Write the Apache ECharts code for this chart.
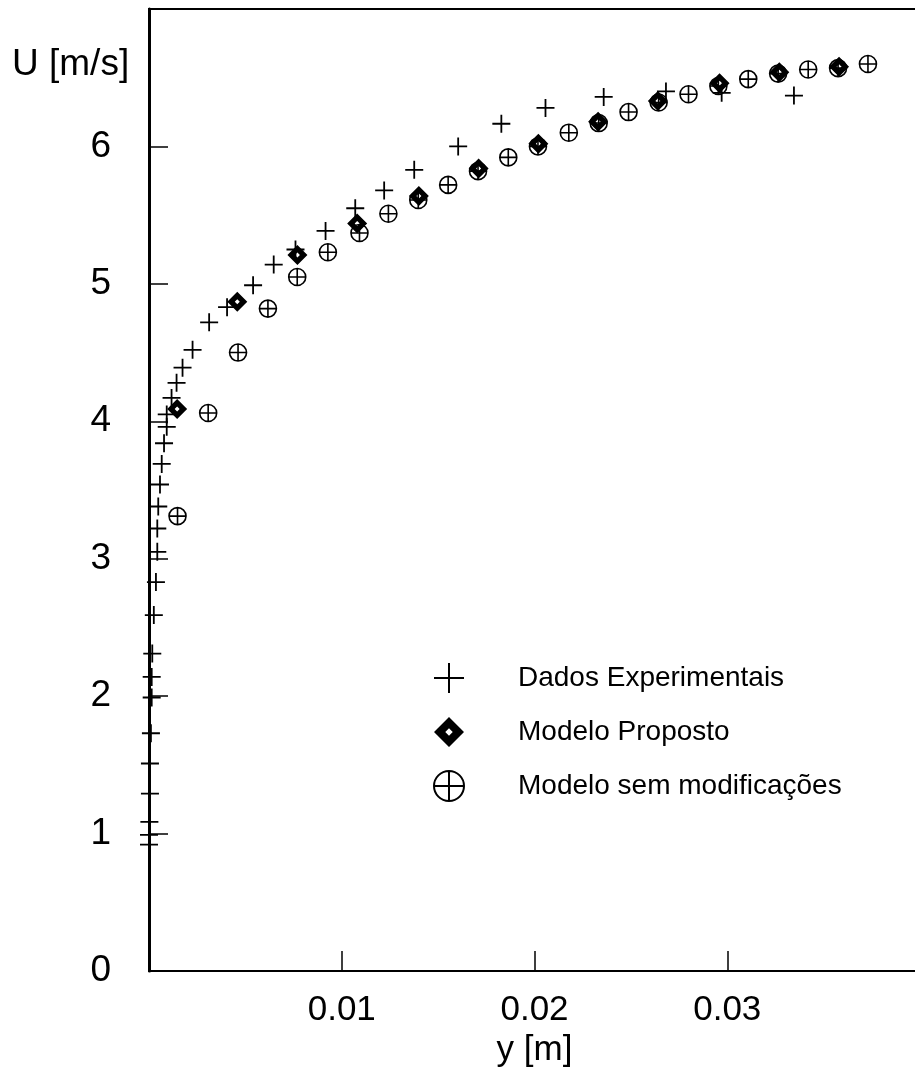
<!DOCTYPE html>
<html>
<head>
<meta charset="utf-8">
<script type="text/javascript" src="https://cdn.jsdelivr.net/npm/echarts@6/dist/echarts.min.js"></script>
<title>U x y</title>
<style>
  html, body { margin: 0; padding: 0; background: #fff; overflow: hidden; }
</style>
</head>
<body>
<!-- the plot runs past the right edge of the picture, so the div is wider than the window -->
<div id="main" style="width: 923px;height:1074px;"></div>
<script type="text/javascript">

    // Dados Experimentais (y [m], U [m/s])
    var expY = [0, 0, 0.00002, 0.00005, 0.00005, 0.0001, 0.00014, 0.00014, 0.00017, 0.00025,
                0.00036, 0.00043, 0.00043, 0.00048, 0.00057, 0.00066, 0.00078, 0.00092, 0.00092, 0.00117,
                0.00143, 0.00174, 0.00226, 0.00312, 0.00405, 0.0054, 0.00647, 0.0076, 0.00916, 0.0107,
                0.0122, 0.01376, 0.01604, 0.01828, 0.02057, 0.02359, 0.02682, 0.02971, 0.03346];
    var expU = [0.92, 0.99, 1.085, 1.29, 1.51, 1.73, 1.99, 2.14, 2.31, 2.59,
                2.83, 3.05, 3.22, 3.38, 3.54, 3.69, 3.84, 3.96, 4.05, 4.17,
                4.28, 4.39, 4.52, 4.72, 4.83, 4.99, 5.14, 5.25, 5.385, 5.55,
                5.68, 5.83, 6.00, 6.165, 6.28, 6.36, 6.40, 6.39, 6.37];

    // Modelo Proposto
    var propY = [0.00146, 0.00458, 0.0077, 0.0108, 0.014, 0.0171, 0.0202, 0.0233, 0.0264, 0.0296, 0.0327, 0.0358];
    var propU = [4.09, 4.87, 5.21, 5.44, 5.64, 5.84, 6.02, 6.18, 6.33, 6.46, 6.54, 6.58];

    // Modelo sem modificações
    var semY = [0.00148, 0.00307, 0.00462, 0.00617, 0.00769, 0.00928, 0.01092, 0.01242, 0.01397, 0.01552,
                0.01707, 0.01864, 0.02018, 0.02178, 0.02333, 0.02488, 0.02644, 0.02799, 0.02954, 0.03109,
                0.03264, 0.0342, 0.03575, 0.0373];
    var semU = [3.31, 4.06, 4.50, 4.82, 5.05, 5.23, 5.37, 5.51, 5.61, 5.72,
                5.82, 5.92, 6.00, 6.10, 6.17, 6.25, 6.32, 6.38, 6.44, 6.49,
                6.53, 6.56, 6.57, 6.60];

    var names = ['Dados Experimentais', 'Modelo Proposto', 'Modelo sem modificações'];

    function pairs(xs, ys) {
        var out = [];
        for (var i = 0; i < xs.length; i++) {
            out.push([xs[i], ys[i]]);
        }
        return out;
    }

    var crossPath = 'path://M0,-10 L0,10 M-10,0 L10,0';
    var diamondPath = 'path://M0,-10 L10,0 L0,10 L-10,0 Z M0,-2.5 L-2.5,0 L0,2.5 L2.5,0 Z';
    var circlePlusPath = 'path://M-10,0 A10,10 0 1,1 10,0 A10,10 0 1,1 -10,0 Z M-10,0 L10,0 M0,-10 L0,10';

    var font = 'Liberation Sans, Arial, sans-serif';

    var myChart = echarts.init(document.getElementById('main'));

    var option = {
        animation: false,
        title: {
            text: 'U [m/s]',
            left: 12,
            top: 46,
            padding: 0,
            textStyle: { fontFamily: font, fontSize: 37, fontWeight: 'normal', color: '#000' }
        },
        legend: {
            orient: 'vertical',
            left: 428,
            top: 657,
            itemWidth: 30,
            itemHeight: 30,
            itemGap: 23,
            data: names,
            textStyle: { fontFamily: font, fontSize: 28, color: '#000', padding: [0, 0, 0, 49] }
        },
        grid: {
            left: 149,
            top: 9,
            right: 1,
            bottom: 103,
            show: true,
            borderColor: '#000',
            borderWidth: 2
        },
        xAxis: {
            type: 'value',
            min: 0,
            max: 0.04,
            interval: 0.01,
            name: 'y [m]',
            nameLocation: 'middle',
            nameGap: 58,
            nameTextStyle: { fontFamily: font, fontSize: 35, color: '#000' },
            axisLine: { lineStyle: { color: '#000', width: 2 } },
            axisTick: { inside: true, length: 20, lineStyle: { color: '#000', width: 1.5 } },
            axisLabel: {
                margin: 22,
                fontFamily: font,
                fontSize: 35,
                color: '#000',
                formatter: function (v) {
                    if (v === 0 || v >= 0.04) return '';
                    return v.toFixed(2);
                }
            },
            splitLine: { show: false }
        },
        yAxis: {
            type: 'value',
            min: 0,
            max: 7,
            interval: 1,
            axisLine: { lineStyle: { color: '#000', width: 3 } },
            axisTick: { inside: true, length: 19, lineStyle: { color: '#000', width: 1.5 } },
            axisLabel: {
                margin: 38,
                fontFamily: font,
                fontSize: 37,
                color: '#000',
                formatter: function (v) {
                    return v >= 7 ? '' : String(v);
                }
            },
            splitLine: { show: false }
        },
        series: [
            {
                name: names[0],
                type: 'scatter',
                symbol: crossPath,
                symbolSize: 18,
                itemStyle: { color: '#000', borderColor: '#000', borderWidth: 1.8, opacity: 1 },
                data: pairs(expY, expU)
            },
            {
                name: names[2],
                type: 'scatter',
                symbol: circlePlusPath,
                symbolSize: 17,
                itemStyle: { color: 'rgba(255,255,255,0)', borderColor: '#000', borderWidth: 1.6, opacity: 1 },
                data: pairs(semY, semU)
            },
            {
                name: names[1],
                type: 'scatter',
                symbol: diamondPath,
                symbolSize: 20,
                itemStyle: { color: '#000', borderWidth: 0, opacity: 1 },
                data: pairs(propY, propU)
            }
        ]
    };
    myChart.setOption(option);

</script>
</body>
</html>
